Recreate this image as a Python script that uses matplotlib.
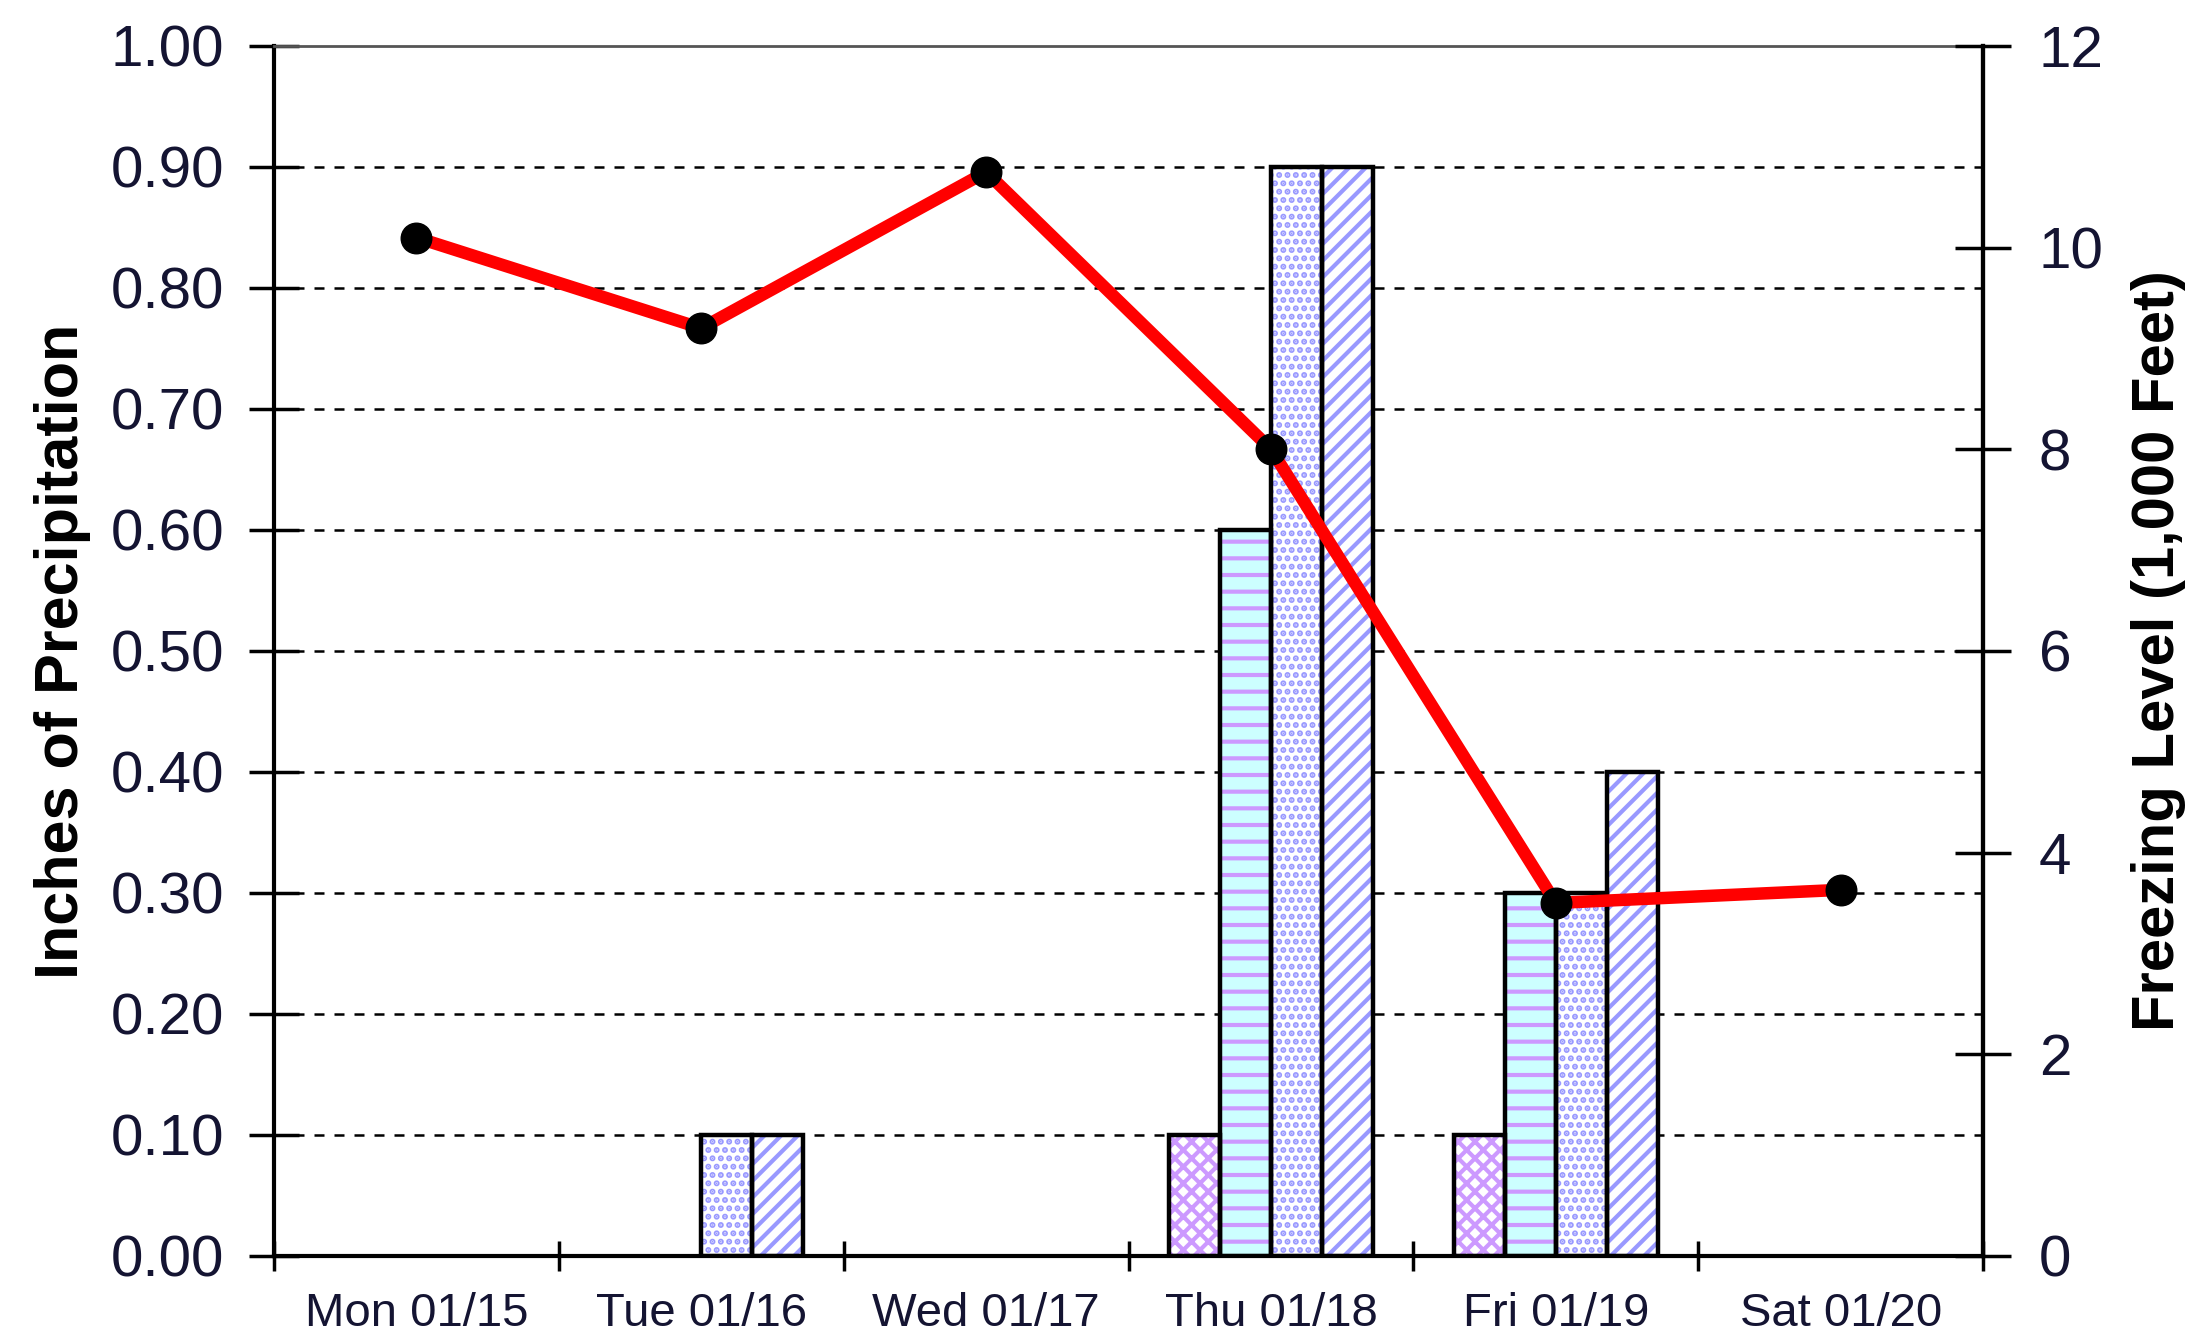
import matplotlib
matplotlib.use("Agg")
import matplotlib.pyplot as plt
import numpy as np

plt.rcParams['font.family'] = ['Liberation Sans', 'DejaVu Sans']
plt.rcParams['hatch.linewidth'] = 3.0

days = ["Mon 01/15", "Tue 01/16", "Wed 01/17", "Thu 01/18", "Fri 01/19", "Sat 01/20"]
series1 = [0.0, 0.0, 0.0, 0.1, 0.1, 0.0]
series2 = [0.0, 0.0, 0.0, 0.6, 0.3, 0.0]
series3 = [0.0, 0.1, 0.0, 0.9, 0.3, 0.0]
series4 = [0.0, 0.1, 0.0, 0.9, 0.4, 0.0]
freezing = [10.1, 9.2, 10.75, 8.0, 3.5, 3.63]

left_ticks = [0.0, 0.1, 0.2, 0.3, 0.4, 0.5, 0.6, 0.7, 0.8, 0.9, 1.0]
right_ticks = [0, 2, 4, 6, 8, 10, 12]

styles = [
    dict(face='white', hatch='xx', hc='#CC99FF'),
    dict(face='#CCFFFF', hatch='-', hc='#CC99FF'),
    dict(face='white', hatch='..', hc='#9999FF'),
    dict(face='white', hatch='//', hc='#9999FF'),
]
all_series = [series1, series2, series3, series4]

txt = '#141432'

fig = plt.figure(figsize=(21.92, 13.36), dpi=100)
ax = fig.add_axes([0.125, 0.06, 0.7797, 0.9056])

x = np.arange(len(days)) + 0.5
w = 0.179
for i, (s, st) in enumerate(zip(all_series, styles)):
    vals = np.array(s, dtype=float)
    mask = vals > 0
    pos = x[mask] + (i - 1.5) * w
    ax.bar(pos, vals[mask], width=w, color=st['face'], hatch=st['hatch'],
           edgecolor=st['hc'], linewidth=0, zorder=2)
    ax.bar(pos, vals[mask], width=w, fill=False, edgecolor='black',
           linewidth=3.2, zorder=3)

ax.set_xlim(0, len(days))
ax.set_ylim(0, 1.0)
ax.set_yticks(left_ticks)
ax.set_yticklabels([f"{v:.2f}" for v in left_ticks])
for v in left_ticks[1:-1]:
    ax.axhline(v, color='black', lw=1.8, linestyle=(0, (4, 4)), zorder=1)

ax.set_xticks(np.arange(len(days) + 1))
ax.set_xticklabels([])
ax.set_xticks(x, minor=True)
ax.set_xticklabels(days, minor=True, fontsize=34, color=txt)
ax.tick_params(axis='x', which='minor', length=0, pad=26)
ax.tick_params(axis='x', which='major', direction='inout', length=22, width=2.5)
ax.tick_params(axis='y', direction='inout', length=36, width=2.5, labelsize=42,
               labelcolor=txt, pad=18)

for sp in ['left', 'right', 'bottom']:
    ax.spines[sp].set_linewidth(3)
    ax.spines[sp].set_color('black')
ax.spines['top'].set_color('#555555')
ax.spines['top'].set_linewidth(2)

ax.set_ylabel("Inches of Precipitation", fontsize=44, fontweight='bold',
              color='black', labelpad=14)

ax2 = ax.twinx()
ax2.plot(x, freezing, color='#FF0000', lw=9, marker='o', markersize=22,
         markerfacecolor='black', markeredgecolor='black', zorder=5)
ax2.set_ylim(0, 12)
ax2.set_yticks(right_ticks)
ax2.tick_params(axis='y', direction='inout', length=40, width=2.5, labelsize=42,
                labelcolor=txt, pad=20)
for sp in ax2.spines.values():
    sp.set_visible(False)
ax2.spines['right'].set_visible(True)
ax2.spines['right'].set_linewidth(3)
ax2.set_ylabel("Freezing Level (1,000 Feet)", fontsize=43, fontweight='bold',
               color='black', labelpad=20)

fig.savefig("out.png", dpi=100)
